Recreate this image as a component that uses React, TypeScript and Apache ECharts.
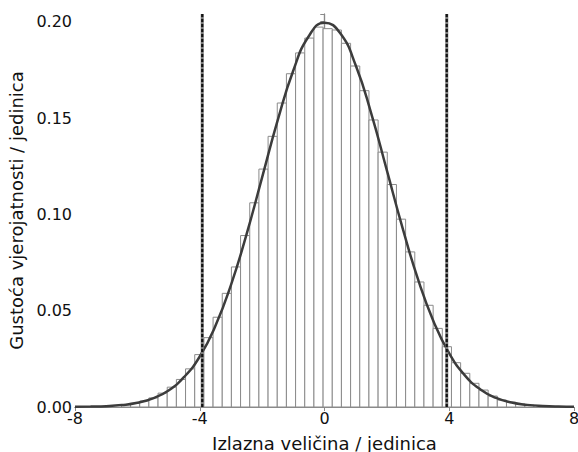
import React, { useEffect, useRef } from "react";
import * as echarts from "echarts";

// Histogram bins: first left edge and bin width (units)
const binStart = -6.513;
const binWidth = 0.294;
// Bar heights (probability density), left to right
const barHeights = [
  0.0012, 0.0019, 0.0031, 0.0047, 0.0072, 0.0103, 0.0143, 0.0198, 0.0272, 0.036,
  0.0466, 0.059, 0.0727, 0.089, 0.106, 0.1235, 0.1405, 0.1578, 0.173, 0.1838,
  0.1915, 0.1972, 0.1964, 0.1957, 0.1888, 0.177, 0.1642, 0.149, 0.1323, 0.1155,
  0.0975, 0.0805, 0.0649, 0.0528, 0.0408, 0.0313, 0.023, 0.0175, 0.0123, 0.0088,
  0.0057, 0.0036, 0.0025, 0.0016, 0.001,
];
// Fitted density curve
const curveX = [
  -8, -7.5, -7, -6.5, -6, -5.5, -5, -4.5, -4, -3.5, -3, -2.5, -2, -1.5, -1, -0.5, 0,
  0.5, 1, 1.5, 2, 2.5, 3, 3.5, 4, 4.5, 5, 5.5, 6, 6.5, 7, 7.5, 8,
];
const curveY = [
  0.0001, 0.0002, 0.0004, 0.001, 0.0022, 0.0045, 0.0086, 0.0156, 0.0262, 0.042, 0.0633,
  0.0896, 0.1192, 0.1489, 0.1747, 0.1926, 0.1995, 0.1941, 0.1774, 0.1523, 0.1228,
  0.0931, 0.0662, 0.0443, 0.0278, 0.0164, 0.0091, 0.0047, 0.0023, 0.0011, 0.0005,
  0.0002, 0.0001,
];
// Vertical limit lines
const limitX = [-3.92, 3.92];
const xTicks = { min: -8, max: 8, interval: 4 };
const yTicks = { min: 0, max: 0.204, interval: 0.05 };

const FONT = "DejaVu Sans";

export default function App() {
  const ref = useRef<HTMLDivElement>(null);
  useEffect(() => {
    if (!ref.current) return;
    document.body.style.margin = "0";
    const chart = echarts.init(ref.current, undefined, { renderer: "svg" });
    const bars = barHeights.map((h, i) => [
      binStart + i * binWidth,
      binStart + (i + 1) * binWidth,
      h,
    ]);
    const axisLine = { lineStyle: { color: "#8a8a8a", width: 1.2 } };
    const limitSeries: any[] = [];
    limitX.forEach((x) => {
      limitSeries.push({
        type: "line",
        data: [
          [x, 0],
          [x, yTicks.max],
        ],
        symbol: "none",
        lineStyle: { color: "#7a7a7a", width: 3 },
        z: 5,
      });
      limitSeries.push({
        type: "line",
        data: [
          [x, 0],
          [x, yTicks.max],
        ],
        symbol: "none",
        lineStyle: { color: "#111", width: 2.2, type: [3, 2] },
        z: 6,
      });
    });
    chart.setOption({
      animation: false,
      backgroundColor: "#fff",
      grid: { left: 75, right: 4, top: 14, bottom: 45, outerBoundsMode: "none", containLabel: false },
      xAxis: [
        {
          type: "value",
          min: xTicks.min,
          max: xTicks.max,
          interval: xTicks.interval,
          name: "Izlazna veličina / jedinica",
          nameLocation: "middle",
          nameGap: 27,
          nameTextStyle: { fontFamily: FONT, fontSize: 18, color: "#111" },
          axisLine,
          axisTick: { show: true, inside: false, length: 4, lineStyle: { color: "#8a8a8a" } },
          axisLabel: { fontFamily: FONT, fontSize: 16, color: "#111", margin: 3, hideOverlap: false },
          splitLine: { show: false },
        },
        {
          type: "value",
          position: "top",
          min: xTicks.min,
          max: xTicks.max,
          interval: xTicks.interval,
          axisLine,
          axisTick: { show: true, inside: true, length: 4, lineStyle: { color: "#8a8a8a" } },
          axisLabel: { show: false },
          splitLine: { show: false },
        },
      ],
      yAxis: [
        {
          type: "value",
          min: yTicks.min,
          max: yTicks.max,
          interval: yTicks.interval,
          name: "Gustoća vjerojatnosti / jedinica",
          nameLocation: "middle",
          nameGap: 50,
          nameTextStyle: { fontFamily: FONT, fontSize: 18, color: "#111" },
          axisLine,
          axisTick: { show: true, inside: false, length: 4, lineStyle: { color: "#8a8a8a" } },
          axisLabel: {
            fontFamily: FONT,
            fontSize: 16,
            color: "#111",
            margin: 3,
            formatter: (v: number) =>
              Math.abs(v / yTicks.interval - Math.round(v / yTicks.interval)) < 1e-6
                ? v.toFixed(2)
                : "",
          },
          splitLine: { show: false },
        },
        {
          type: "value",
          position: "right",
          min: yTicks.min,
          max: yTicks.max,
          interval: yTicks.interval,
          axisLine,
          axisTick: { show: true, inside: true, length: 4, lineStyle: { color: "#8a8a8a" } },
          axisLabel: { show: false },
          splitLine: { show: false },
        },
      ],
      series: [
        {
          type: "custom",
          data: bars,
          renderItem: (params: any, api: any) => {
            const p0 = api.coord([api.value(0), api.value(2)]);
            const p1 = api.coord([api.value(1), 0]);
            return {
              type: "rect",
              shape: { x: p0[0], y: p0[1], width: p1[0] - p0[0], height: p1[1] - p0[1] },
              style: { fill: "#fff", stroke: "#8a8a8a", lineWidth: 1 },
            };
          },
          z: 2,
        },
        {
          type: "line",
          data: curveX.map((x, i) => [x, curveY[i]]),
          smooth: true,
          symbol: "none",
          lineStyle: { color: "#3c3c3c", width: 2.5 },
          z: 4,
        },
        ...limitSeries,
      ],
    });
    return () => chart.dispose();
  }, []);
  return (
    <div
      ref={ref}
      style={{ width: 578, height: 452, position: "fixed", left: 0, top: 0 }}
    />
  );
}
